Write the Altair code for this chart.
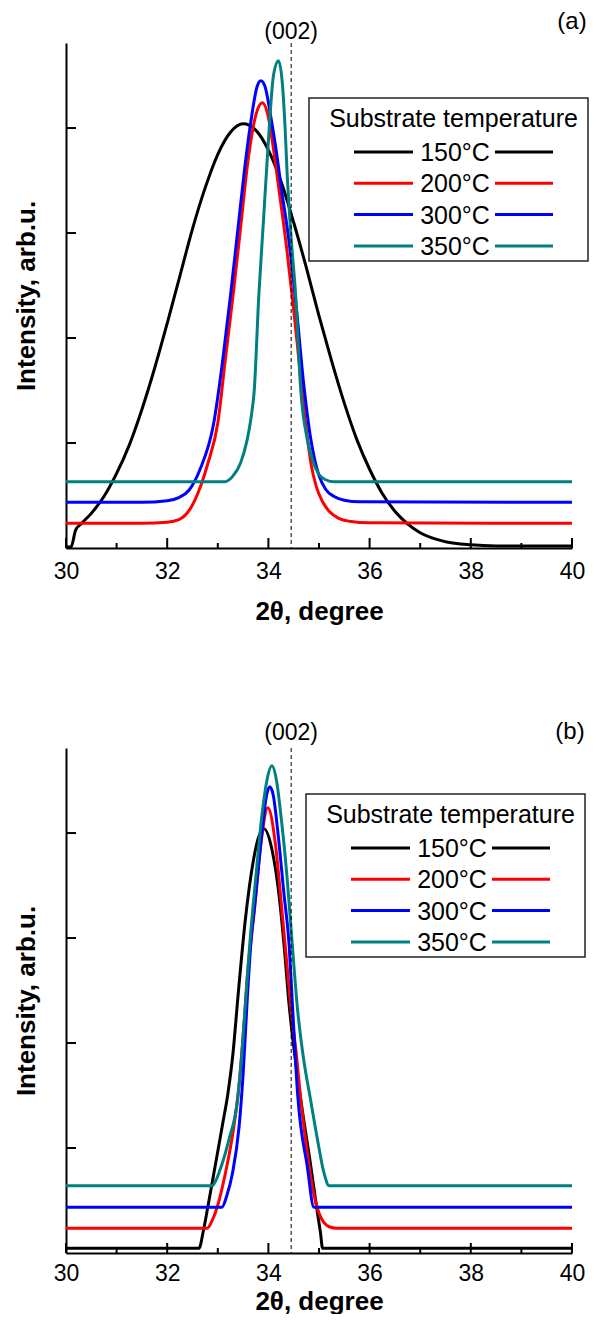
import altair as alt
import pandas as pd

# ---------------- data ----------------
LABELS = ["150°C", "200°C", "300°C", "350°C"]
COLORS = ["#000000", "#ff0000", "#0000ff", "#008080"]
LEGEND_TITLE = "Substrate temperature"
X_TICKS_MAJOR = [30, 32, 34, 36, 38, 40]
X_TICKS_MINOR = [31, 33, 35, 37, 39]
Y_TICKS = [1, 2, 3, 4]
PEAK_002 = 34.45

# panel (a)
A150_X = [30.0, 30.1, 30.19, 30.3, 30.5, 30.75, 31.0, 31.25, 31.5, 31.75, 32.0, 32.25, 32.5, 32.75,
          33.0, 33.25, 33.5, 33.75, 34.0, 34.25, 34.5, 34.75, 35.0, 35.25, 35.5, 35.75, 36.0, 36.25,
          36.5, 36.75, 37.0, 37.5, 38.0, 38.5, 39.0, 40.0]
A150_Y = [0.01, 0.01, 0.17, 0.23, 0.33, 0.49, 0.71, 0.98, 1.32, 1.71, 2.14, 2.59, 3.04, 3.43,
          3.75, 3.96, 4.04, 3.98, 3.79, 3.49, 3.10, 2.67, 2.21, 1.78, 1.38, 1.03, 0.75, 0.52,
          0.35, 0.23, 0.145, 0.06, 0.03, 0.02, 0.02, 0.02]
A200_X = [30.0, 31.5, 32.0, 32.23, 32.45, 32.63, 32.8, 33.0, 33.15, 33.3, 33.45, 33.6, 33.75, 33.88,
          34.0, 34.1, 34.21, 34.35, 34.47, 34.57, 34.66, 34.77, 34.85, 34.95, 35.06, 35.2, 35.4, 35.6,
          36.0, 40.0]
A200_Y = [0.235, 0.235, 0.245, 0.27, 0.37, 0.55, 0.8, 1.19, 1.8, 2.4, 3.05, 3.7, 4.12, 4.24,
          4.1, 3.8, 3.41, 2.9, 2.4, 1.95, 1.5, 1.05, 0.78, 0.58, 0.45, 0.35, 0.28, 0.255,
          0.24, 0.235]
A300_X = [30.0, 31.5, 32.0, 32.23, 32.43, 32.65, 32.92, 33.1, 33.25, 33.4, 33.52, 33.65, 33.78, 33.85,
          33.93, 34.05, 34.15, 34.26, 34.4, 34.55, 34.7, 34.84, 34.92, 35.0, 35.13, 35.3, 35.5, 35.8, 40.0]
A300_Y = [0.435, 0.435, 0.45, 0.48, 0.55, 0.75, 1.19, 1.8, 2.4, 3.05, 3.57, 4.05, 4.4, 4.45,
          4.4, 4.1, 3.8, 3.41, 2.95, 2.3, 1.55, 1.03, 0.83, 0.69, 0.56, 0.49, 0.455, 0.44, 0.435]
A350_X = [30.0, 33.12, 33.29, 33.45, 33.58, 33.66, 33.72, 33.81, 33.9, 33.96, 34.03, 34.1, 34.2, 34.28,
          34.33, 34.37, 34.45, 34.54, 34.64, 34.77, 34.9, 35.0, 35.13, 35.3, 40.0]
A350_Y = [0.63, 0.63, 0.68, 0.81, 1.03, 1.25, 1.5, 2.4, 3.1, 3.57, 4.1, 4.5, 4.64, 4.4,
          4.0, 3.57, 2.95, 2.4, 1.5, 1.03, 0.8, 0.7, 0.65, 0.63, 0.63]

# panel (b)
B150_X = [30.0, 32.63, 32.71, 32.8, 32.9, 33.0, 33.1, 33.2, 33.3, 33.4, 33.55, 33.7, 33.8, 33.91,
          34.08, 34.21, 34.31, 34.41, 34.47, 34.64, 34.84, 34.97, 35.03, 35.07, 40.0]
B150_Y = [0.045, 0.045, 0.2, 0.43, 0.7, 0.97, 1.24, 1.52, 1.9, 2.45, 3.2, 3.73, 3.95, 4.04,
          3.82, 3.41, 2.93, 2.36, 2.09, 1.46, 0.82, 0.38, 0.19, 0.045, 0.045]
B200_X = [30.0, 32.79, 32.89, 32.99, 33.15, 33.3, 33.42, 33.52, 33.58, 33.72, 33.85, 33.99, 34.14,
          34.27, 34.39, 34.44, 34.55, 34.64, 34.77, 34.87, 35.0, 35.2, 35.36, 40.0]
B200_Y = [0.235, 0.235, 0.31, 0.44, 0.76, 1.15, 1.6, 2.2, 2.62, 3.25, 3.89, 4.24, 3.89,
          3.25, 2.62, 2.36, 1.9, 1.46, 0.95, 0.63, 0.38, 0.25, 0.235, 0.235]
B300_X = [30.0, 33.08, 33.18, 33.29, 33.42, 33.5, 33.58, 33.65, 33.75, 33.88, 33.96, 34.03, 34.1,
          34.18, 34.31, 34.41, 34.46, 34.58, 34.77, 34.9, 40.0]
B300_Y = [0.435, 0.435, 0.55, 0.76, 1.2, 1.7, 2.4, 2.93, 3.41, 4.04, 4.35, 4.44, 4.35,
          4.04, 3.41, 2.93, 2.5, 1.5, 0.82, 0.435, 0.435]
B350_X = [30.0, 32.89, 32.95, 33.02, 33.22, 33.39, 33.48, 33.55, 33.63, 33.75, 33.88, 33.97, 34.07,
          34.16, 34.24, 34.37, 34.47, 34.57, 34.68, 34.84, 34.97, 35.1, 35.2, 40.0]
B350_Y = [0.64, 0.64, 0.68, 0.76, 1.08, 1.46, 1.93, 2.4, 2.93, 3.57, 4.2, 4.5, 4.64,
          4.5, 4.2, 3.57, 2.95, 2.35, 1.9, 1.44, 1.08, 0.76, 0.64, 0.64]

# ---------------- layout / style ----------------
W, H = 506, 505
YMAX = 4.81
FONT = "Liberation Sans, Arial, sans-serif"
TL_MAJ_Y = 10 * YMAX / H
TL_MIN_Y = 5 * YMAX / H
TL_X = 10 * 10.0 / W

XSCALE = alt.Scale(domain=[30, 40], nice=False)
YSCALE = alt.Scale(domain=[0, YMAX], nice=False, zero=False)


def x_axis(label_pad, title_pad):
    return alt.Axis(
        values=X_TICKS_MAJOR, format="d", ticks=False, grid=False, labelFlush=False,
        labelFont=FONT, labelFontSize=23, labelColor="black", labelPadding=label_pad,
        domainColor="black", domainWidth=2,
        title="2θ, degree", titleFont=FONT, titleFontSize=26, titleFontWeight="bold",
        titleColor="black", titlePadding=title_pad)


YAXIS = alt.Axis(
    labels=False, ticks=False, grid=False, domainColor="black", domainWidth=2,
    title="Intensity, arb.u.", titleFont=FONT, titleFontSize=26, titleFontWeight="bold",
    titleColor="black", titlePadding=27)


def long_df(xs_list, ys_list):
    frames = []
    for lab, xs, ys in zip(LABELS, xs_list, ys_list):
        frames.append(pd.DataFrame({"x": xs, "y": ys, "series": lab}))
    return pd.concat(frames, ignore_index=True)


def make_panel(df, box_origin, tag, tag_pos, ann_y, label_pad, title_pad):
    XAXIS = x_axis(label_pad, title_pad)
    lines = alt.Chart(df).mark_line(strokeWidth=3, interpolate="monotone").encode(
        x=alt.X("x:Q", scale=XSCALE, axis=XAXIS),
        y=alt.Y("y:Q", scale=YSCALE, axis=YAXIS),
        color=alt.Color("series:N", scale=alt.Scale(domain=LABELS, range=COLORS), legend=None),
    )
    dash = alt.Chart(pd.DataFrame({"x": [PEAK_002]})).mark_rule(
        color="black", strokeWidth=1, strokeDash=[4, 3]).encode(
        x=alt.X("x:Q", scale=XSCALE, axis=XAXIS))
    xmaj = alt.Chart(pd.DataFrame({"x": X_TICKS_MAJOR})).transform_calculate(
        y0="0", y1=str(TL_MAJ_Y)).mark_rule(color="black", strokeWidth=2).encode(
        x=alt.X("x:Q", scale=XSCALE, axis=XAXIS),
        y=alt.Y("y0:Q", scale=YSCALE, axis=YAXIS), y2="y1:Q")
    xmin = alt.Chart(pd.DataFrame({"x": X_TICKS_MINOR})).transform_calculate(
        y0="0", y1=str(TL_MIN_Y)).mark_rule(color="black", strokeWidth=2).encode(
        x=alt.X("x:Q", scale=XSCALE, axis=XAXIS),
        y=alt.Y("y0:Q", scale=YSCALE, axis=YAXIS), y2="y1:Q")
    ytk = alt.Chart(pd.DataFrame({"y": Y_TICKS})).transform_calculate(
        x0="30", x1=str(30 + TL_X)).mark_rule(color="black", strokeWidth=2).encode(
        y=alt.Y("y:Q", scale=YSCALE, axis=YAXIS),
        x=alt.X("x0:Q", scale=XSCALE, axis=XAXIS), x2="x1:Q")
    ann = alt.Chart(pd.DataFrame({"t": ["(002)"]})).mark_text(
        font=FONT, fontSize=23, color="black", baseline="middle", align="center").encode(
        x=alt.datum(PEAK_002), y=alt.value(ann_y), text="t:N")
    tagc = alt.Chart(pd.DataFrame({"t": [tag]})).mark_text(
        font=FONT, fontSize=24, color="black", baseline="middle", align="center").encode(
        x=alt.value(tag_pos[0]), y=alt.value(tag_pos[1]), text="t:N")

    bx, by = box_origin
    one = pd.DataFrame({"t": [LEGEND_TITLE]})
    box = alt.Chart(one).mark_rect(fill="white", stroke="#222222", strokeWidth=1.5).encode(
        x=alt.value(bx), x2=alt.value(bx + 279), y=alt.value(by), y2=alt.value(by + 163))
    ltitle = alt.Chart(one).mark_text(font=FONT, fontSize=25, color="black",
                                      baseline="middle", align="center").encode(
        x=alt.value(bx + 144.5), y=alt.value(by + 21), text="t:N")
    layers = [lines, dash, xmaj, xmin, ytk, ann, tagc, box, ltitle]
    for i, (lab, col) in enumerate(zip(LABELS, COLORS)):
        ry = by + 54 + i * 31.3
        row = pd.DataFrame({"t": [lab]})
        layers.append(alt.Chart(row).mark_rule(color=col, strokeWidth=3).encode(
            x=alt.value(bx + 45), x2=alt.value(bx + 104), y=alt.value(ry)))
        layers.append(alt.Chart(row).mark_rule(color=col, strokeWidth=3).encode(
            x=alt.value(bx + 186), x2=alt.value(bx + 244), y=alt.value(ry)))
        layers.append(alt.Chart(row).mark_text(font=FONT, fontSize=25, color="black",
                                               baseline="middle", align="center").encode(
            x=alt.value(bx + 146), y=alt.value(ry + 1), text="t:N"))
    return alt.layer(*layers).properties(width=W, height=H)


dfa = long_df([A150_X, A200_X, A300_X, A350_X], [A150_Y, A200_Y, A300_Y, A350_Y])
dfb = long_df([B150_X, B200_X, B300_X, B350_X], [B150_Y, B200_Y, B300_Y, B350_Y])

pa = make_panel(dfa, (243, 55), "(a)", (506, -21), -11, 12, 15)
pb = make_panel(dfb, (240, 46), "(b)", (504, -16), -15, 9, 3)

chart = alt.vconcat(pa, pb, spacing=200, bounds="flush").properties(
    padding={"left": 5, "top": 2, "right": 0, "bottom": 0}
).configure_view(stroke=None)

chart.save("out.html", embed_options={"renderer": "svg", "actions": False})
